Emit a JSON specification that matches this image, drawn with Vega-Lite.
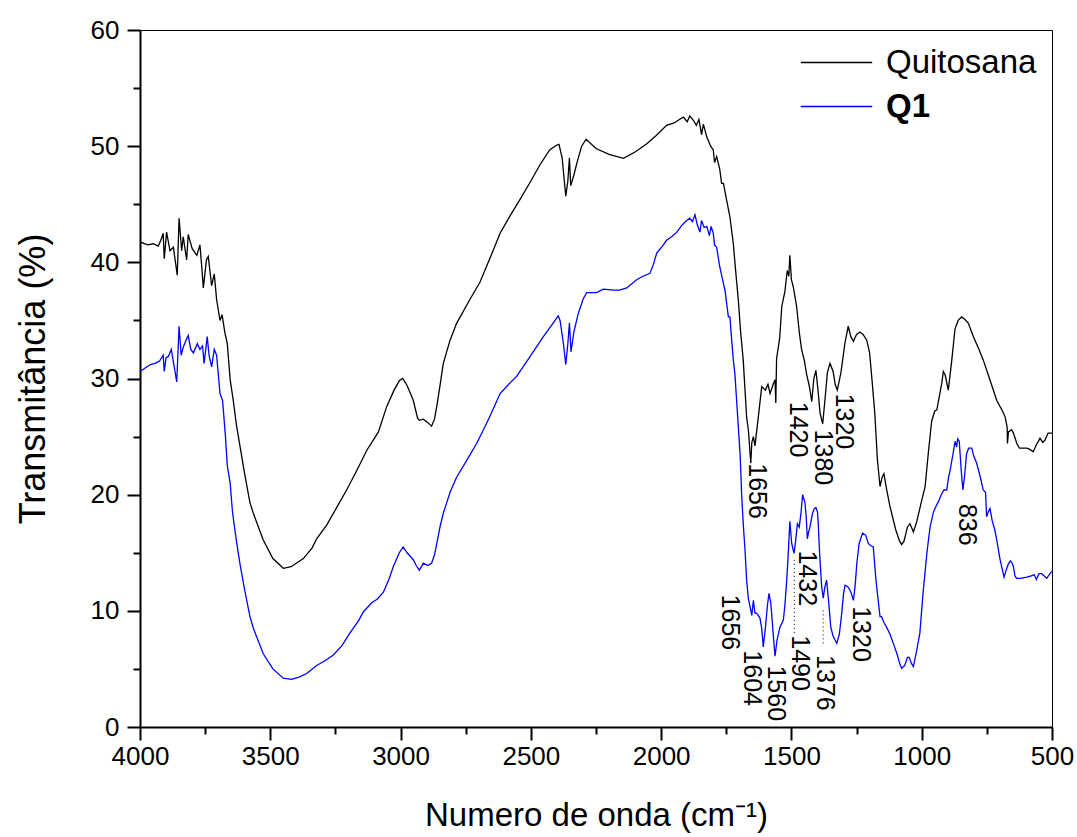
{
  "$schema": "https://vega.github.io/schema/vega-lite/v6.json",
  "autosize": {"type": "none"},
  "padding": {"left": 140, "top": 30, "right": 25, "bottom": 110},
  "width": 912,
  "height": 697,
  "background": "white",
  "config": {
    "font": "Liberation Sans",
    "view": {"stroke": "black", "strokeWidth": 1}
  },
  "datasets": {
    "quit": [
      {"x":4000,"y":41.6},{"x":3994,"y":41.7},{"x":3970,"y":41.5},{"x":3949,"y":41.6},{"x":3930,"y":41.4},{"x":3920,"y":41.9},{"x":3911,"y":42.5},{"x":3907,"y":40.3},{"x":3898,"y":42.6},{"x":3885,"y":41.0},{"x":3872,"y":41.3},{"x":3857,"y":38.9},{"x":3850,"y":43.8},{"x":3840,"y":41.0},{"x":3834,"y":42.2},{"x":3821,"y":40.2},{"x":3815,"y":42.4},{"x":3800,"y":41.2},{"x":3782,"y":40.6},{"x":3770,"y":41.5},{"x":3763,"y":39.6},{"x":3757,"y":37.8},{"x":3745,"y":40.2},{"x":3738,"y":40.5},{"x":3725,"y":38.0},{"x":3715,"y":39.0},{"x":3706,"y":36.8},{"x":3693,"y":35.0},{"x":3685,"y":35.5},{"x":3674,"y":33.9},{"x":3665,"y":33.0},{"x":3654,"y":29.9},{"x":3642,"y":28.1},{"x":3630,"y":26},{"x":3615,"y":24},{"x":3600,"y":22},{"x":3578,"y":19.3},{"x":3565,"y":18.4},{"x":3527,"y":16.1},{"x":3490,"y":14.5},{"x":3450,"y":13.66},{"x":3420,"y":13.8},{"x":3373,"y":14.5},{"x":3340,"y":15.4},{"x":3322,"y":16.2},{"x":3283,"y":17.4},{"x":3245,"y":18.9},{"x":3207,"y":20.4},{"x":3170,"y":22.0},{"x":3130,"y":23.8},{"x":3085,"y":25.4},{"x":3053,"y":27.6},{"x":3025,"y":29.0},{"x":3005,"y":29.8},{"x":2992,"y":30.0},{"x":2975,"y":29.4},{"x":2951,"y":28.1},{"x":2935,"y":26.6},{"x":2928,"y":26.4},{"x":2913,"y":26.5},{"x":2895,"y":26.2},{"x":2881,"y":25.9},{"x":2870,"y":26.5},{"x":2861,"y":27.6},{"x":2848,"y":29.5},{"x":2836,"y":31.3},{"x":2810,"y":33.3},{"x":2785,"y":34.75},{"x":2734,"y":36.8},{"x":2695,"y":38.3},{"x":2644,"y":41.06},{"x":2618,"y":42.5},{"x":2580,"y":44.0},{"x":2542,"y":45.4},{"x":2500,"y":47.0},{"x":2465,"y":48.4},{"x":2427,"y":49.7},{"x":2400,"y":50.1},{"x":2392,"y":50.16},{"x":2380,"y":49.0},{"x":2366,"y":45.7},{"x":2358,"y":47.0},{"x":2352,"y":49.0},{"x":2347,"y":46.6},{"x":2335,"y":47.5},{"x":2324,"y":48.5},{"x":2305,"y":50.0},{"x":2288,"y":50.6},{"x":2250,"y":49.8},{"x":2200,"y":49.3},{"x":2145,"y":48.95},{"x":2100,"y":49.5},{"x":2055,"y":50.2},{"x":2020,"y":50.9},{"x":1979,"y":51.8},{"x":1950,"y":52.0},{"x":1930,"y":52.3},{"x":1915,"y":52.5},{"x":1900,"y":52.1},{"x":1890,"y":52.6},{"x":1877,"y":52.25},{"x":1865,"y":51.8},{"x":1855,"y":52.3},{"x":1845,"y":51.0},{"x":1838,"y":51.9},{"x":1825,"y":50.8},{"x":1810,"y":50.0},{"x":1800,"y":49.7},{"x":1795,"y":48.6},{"x":1787,"y":49.1},{"x":1775,"y":48.0},{"x":1768,"y":46.8},{"x":1761,"y":46.8},{"x":1750,"y":45.5},{"x":1736,"y":43.9},{"x":1723,"y":41.6},{"x":1715,"y":39.5},{"x":1704,"y":36.8},{"x":1695,"y":34.0},{"x":1685,"y":31.6},{"x":1672,"y":26.7},{"x":1665,"y":25.5},{"x":1656,"y":22.7},{"x":1652,"y":24.5},{"x":1646,"y":25.0},{"x":1640,"y":24.2},{"x":1627,"y":26.7},{"x":1614,"y":29.3},{"x":1600,"y":29.0},{"x":1590,"y":29.5},{"x":1582,"y":28.7},{"x":1570,"y":29.5},{"x":1563,"y":29.9},{"x":1560,"y":27.9},{"x":1557,"y":31.7},{"x":1545,"y":33.5},{"x":1537,"y":36.2},{"x":1525,"y":37.5},{"x":1516,"y":39.3},{"x":1510,"y":38.8},{"x":1506,"y":40.6},{"x":1500,"y":38.5},{"x":1493,"y":37.9},{"x":1480,"y":36.2},{"x":1470,"y":34.0},{"x":1461,"y":32.5},{"x":1450,"y":31.5},{"x":1442,"y":30.4},{"x":1430,"y":29.2},{"x":1422,"y":28.0},{"x":1414,"y":30.0},{"x":1406,"y":30.7},{"x":1398,"y":29.0},{"x":1390,"y":27.0},{"x":1380,"y":26.1},{"x":1372,"y":28.0},{"x":1362,"y":30.5},{"x":1352,"y":31.3},{"x":1340,"y":30.6},{"x":1332,"y":29.5},{"x":1324,"y":29.0},{"x":1310,"y":30.5},{"x":1295,"y":33.0},{"x":1282,"y":34.5},{"x":1272,"y":33.6},{"x":1262,"y":33.2},{"x":1250,"y":33.8},{"x":1237,"y":34.0},{"x":1225,"y":33.8},{"x":1211,"y":33.3},{"x":1200,"y":32.2},{"x":1192,"y":30.2},{"x":1180,"y":27.0},{"x":1170,"y":23.0},{"x":1160,"y":20.7},{"x":1152,"y":21.5},{"x":1145,"y":21.8},{"x":1135,"y":20.5},{"x":1122,"y":19.0},{"x":1100,"y":17.0},{"x":1085,"y":16.0},{"x":1077,"y":15.7},{"x":1068,"y":16.0},{"x":1055,"y":17.2},{"x":1045,"y":17.5},{"x":1032,"y":16.8},{"x":1020,"y":17.6},{"x":1000,"y":19.5},{"x":987,"y":20.7},{"x":975,"y":23.5},{"x":962,"y":26.3},{"x":950,"y":27.2},{"x":942,"y":27.3},{"x":932,"y":28.5},{"x":923,"y":29.6},{"x":917,"y":30.6},{"x":910,"y":30.3},{"x":898,"y":29.0},{"x":885,"y":31.5},{"x":872,"y":34.3},{"x":860,"y":35.0},{"x":847,"y":35.3},{"x":835,"y":35.1},{"x":821,"y":34.75},{"x":800,"y":33.5},{"x":780,"y":32.5},{"x":764,"y":31.6},{"x":740,"y":30.0},{"x":712,"y":28.1},{"x":690,"y":27.2},{"x":680,"y":26.7},{"x":672,"y":25.8},{"x":671,"y":24.4},{"x":667,"y":25.4},{"x":655,"y":25.6},{"x":648,"y":25.3},{"x":635,"y":24.4},{"x":625,"y":24.0},{"x":616,"y":24.0},{"x":597,"y":24.0},{"x":585,"y":23.9},{"x":572,"y":23.7},{"x":560,"y":24.3},{"x":546,"y":24.85},{"x":535,"y":24.5},{"x":527,"y":24.7},{"x":515,"y":25.3},{"x":500,"y":25.3}
    ],
    "q1": [
      {"x":4000,"y":30.6},{"x":3980,"y":30.9},{"x":3960,"y":31.2},{"x":3942,"y":31.3},{"x":3925,"y":31.5},{"x":3911,"y":32.0},{"x":3907,"y":30.6},{"x":3900,"y":31.8},{"x":3891,"y":31.9},{"x":3880,"y":32.5},{"x":3870,"y":31.2},{"x":3859,"y":29.7},{"x":3850,"y":34.5},{"x":3842,"y":32.0},{"x":3834,"y":32.7},{"x":3825,"y":33.2},{"x":3815,"y":33.7},{"x":3805,"y":32.5},{"x":3795,"y":32.2},{"x":3780,"y":33.0},{"x":3770,"y":32.5},{"x":3760,"y":32.8},{"x":3754,"y":31.3},{"x":3742,"y":33.6},{"x":3735,"y":32.0},{"x":3725,"y":31.0},{"x":3715,"y":32.5},{"x":3706,"y":32.0},{"x":3700,"y":30.5},{"x":3693,"y":28.7},{"x":3683,"y":28.1},{"x":3672,"y":25.0},{"x":3665,"y":22.5},{"x":3654,"y":21.0},{"x":3645,"y":18.5},{"x":3630,"y":16.0},{"x":3616,"y":14.0},{"x":3600,"y":12.0},{"x":3578,"y":9.5},{"x":3565,"y":8.5},{"x":3527,"y":6.3},{"x":3490,"y":5.0},{"x":3450,"y":4.2},{"x":3418,"y":4.1},{"x":3390,"y":4.3},{"x":3360,"y":4.6},{"x":3322,"y":5.3},{"x":3290,"y":5.7},{"x":3258,"y":6.2},{"x":3225,"y":7.0},{"x":3194,"y":8.1},{"x":3160,"y":9.2},{"x":3143,"y":9.9},{"x":3111,"y":10.7},{"x":3090,"y":11.0},{"x":3066,"y":11.6},{"x":3045,"y":12.7},{"x":3028,"y":13.8},{"x":3005,"y":15.0},{"x":2990,"y":15.5},{"x":2975,"y":15.0},{"x":2951,"y":14.4},{"x":2940,"y":13.9},{"x":2928,"y":13.5},{"x":2920,"y":13.8},{"x":2913,"y":14.1},{"x":2895,"y":13.9},{"x":2881,"y":14.1},{"x":2870,"y":14.8},{"x":2861,"y":15.8},{"x":2848,"y":17.3},{"x":2836,"y":18.4},{"x":2810,"y":20.2},{"x":2785,"y":21.5},{"x":2745,"y":23.0},{"x":2708,"y":24.4},{"x":2660,"y":26.6},{"x":2618,"y":28.7},{"x":2585,"y":29.5},{"x":2554,"y":30.2},{"x":2500,"y":32.0},{"x":2452,"y":33.6},{"x":2420,"y":34.6},{"x":2395,"y":35.4},{"x":2388,"y":35.0},{"x":2375,"y":33.0},{"x":2366,"y":31.2},{"x":2358,"y":33.0},{"x":2352,"y":34.8},{"x":2346,"y":32.3},{"x":2335,"y":34.0},{"x":2318,"y":35.6},{"x":2300,"y":36.8},{"x":2286,"y":37.4},{"x":2248,"y":37.4},{"x":2222,"y":37.7},{"x":2184,"y":37.6},{"x":2160,"y":37.6},{"x":2132,"y":37.8},{"x":2110,"y":38.2},{"x":2094,"y":38.5},{"x":2070,"y":38.8},{"x":2043,"y":39.05},{"x":2030,"y":39.8},{"x":2017,"y":40.8},{"x":1995,"y":41.4},{"x":1979,"y":41.9},{"x":1960,"y":42.2},{"x":1940,"y":42.6},{"x":1920,"y":43.2},{"x":1902,"y":43.6},{"x":1890,"y":43.8},{"x":1880,"y":43.5},{"x":1870,"y":44.1},{"x":1862,"y":43.3},{"x":1851,"y":42.6},{"x":1845,"y":43.6},{"x":1835,"y":43.0},{"x":1825,"y":43.1},{"x":1815,"y":42.3},{"x":1808,"y":43.1},{"x":1800,"y":42.5},{"x":1795,"y":41.5},{"x":1787,"y":41.3},{"x":1775,"y":39.6},{"x":1765,"y":38.6},{"x":1755,"y":37.6},{"x":1742,"y":35.3},{"x":1736,"y":35.3},{"x":1730,"y":33.5},{"x":1723,"y":31.6},{"x":1717,"y":30.4},{"x":1710,"y":28.0},{"x":1704,"y":25.9},{"x":1697,"y":23.5},{"x":1691,"y":20.0},{"x":1685,"y":17.5},{"x":1678,"y":15.2},{"x":1672,"y":12.65},{"x":1665,"y":11.0},{"x":1659,"y":10.4},{"x":1652,"y":9.6},{"x":1646,"y":10.9},{"x":1640,"y":9.8},{"x":1634,"y":9.8},{"x":1621,"y":9.4},{"x":1614,"y":8.5},{"x":1608,"y":6.9},{"x":1600,"y":8.5},{"x":1592,"y":10.5},{"x":1586,"y":11.5},{"x":1580,"y":10.8},{"x":1576,"y":9.8},{"x":1570,"y":8.0},{"x":1563,"y":6.1},{"x":1555,"y":7.5},{"x":1544,"y":8.6},{"x":1531,"y":9.2},{"x":1525,"y":10.5},{"x":1518,"y":12.65},{"x":1512,"y":15.0},{"x":1506,"y":17.7},{"x":1499,"y":15.8},{"x":1490,"y":14.95},{"x":1484,"y":16.0},{"x":1477,"y":17.5},{"x":1470,"y":17.2},{"x":1463,"y":18.5},{"x":1457,"y":20.0},{"x":1448,"y":19.3},{"x":1443,"y":18.0},{"x":1439,"y":16.2},{"x":1434,"y":16.8},{"x":1429,"y":17.2},{"x":1419,"y":18.4},{"x":1412,"y":18.8},{"x":1406,"y":18.9},{"x":1400,"y":18.5},{"x":1397,"y":17.5},{"x":1392,"y":15.0},{"x":1384,"y":12.1},{"x":1378,"y":11.1},{"x":1372,"y":12.0},{"x":1365,"y":12.65},{"x":1358,"y":11.0},{"x":1349,"y":8.6},{"x":1340,"y":7.8},{"x":1326,"y":7.2},{"x":1316,"y":8.0},{"x":1307,"y":9.8},{"x":1300,"y":11.5},{"x":1294,"y":12.2},{"x":1285,"y":12.1},{"x":1278,"y":11.9},{"x":1270,"y":11.5},{"x":1262,"y":10.9},{"x":1255,"y":12.3},{"x":1249,"y":14.1},{"x":1240,"y":15.8},{"x":1227,"y":16.7},{"x":1215,"y":16.5},{"x":1205,"y":15.8},{"x":1195,"y":15.6},{"x":1186,"y":15.5},{"x":1175,"y":12.5},{"x":1160,"y":9.5},{"x":1154,"y":9.5},{"x":1145,"y":9.0},{"x":1135,"y":8.6},{"x":1122,"y":8.0},{"x":1109,"y":7.2},{"x":1095,"y":6.3},{"x":1085,"y":5.5},{"x":1077,"y":5.05},{"x":1065,"y":5.3},{"x":1055,"y":6.0},{"x":1048,"y":6.0},{"x":1040,"y":5.5},{"x":1032,"y":5.2},{"x":1020,"y":6.5},{"x":1007,"y":8.1},{"x":995,"y":11.5},{"x":980,"y":15.0},{"x":968,"y":17.2},{"x":955,"y":18.5},{"x":945,"y":19.0},{"x":936,"y":19.4},{"x":925,"y":20.0},{"x":915,"y":20.4},{"x":904,"y":20.4},{"x":897,"y":21.5},{"x":891,"y":22.1},{"x":880,"y":23.5},{"x":872,"y":24.6},{"x":866,"y":24.1},{"x":862,"y":24.8},{"x":856,"y":24.6},{"x":848,"y":22.0},{"x":842,"y":20.4},{"x":836,"y":21.5},{"x":828,"y":23.5},{"x":820,"y":24.0},{"x":813,"y":24.0},{"x":808,"y":24.0},{"x":800,"y":23.3},{"x":789,"y":22.7},{"x":775,"y":21.5},{"x":764,"y":20.4},{"x":755,"y":20.2},{"x":751,"y":18.1},{"x":745,"y":18.5},{"x":738,"y":18.8},{"x":730,"y":17.8},{"x":720,"y":17.0},{"x":712,"y":16.1},{"x":700,"y":14.5},{"x":692,"y":13.7},{"x":684,"y":12.9},{"x":676,"y":13.5},{"x":668,"y":14.0},{"x":660,"y":14.3},{"x":655,"y":14.2},{"x":648,"y":13.8},{"x":642,"y":13.0},{"x":636,"y":12.8},{"x":620,"y":12.8},{"x":597,"y":12.9},{"x":580,"y":13.0},{"x":568,"y":13.1},{"x":560,"y":12.7},{"x":550,"y":13.2},{"x":540,"y":13.2},{"x":530,"y":13.0},{"x":520,"y":12.8},{"x":508,"y":13.2},{"x":500,"y":13.4}
    ],
    "labels": [
      {"x":1631,"y":22.7,"t":"1656"},{"x":1473,"y":28.0,"t":"1420"},{"x":1379,"y":25.6,"t":"1380"},{"x":1298,"y":28.7,"t":"1320"},{"x":826,"y":19.2,"t":"836"},
      {"x":1736,"y":11.4,"t":"1656"},{"x":1653,"y":6.6,"t":"1604"},{"x":1558,"y":5.3,"t":"1560"},{"x":1466,"y":7.9,"t":"1490"},{"x":1439,"y":15.2,"t":"1432"},{"x":1370,"y":6.2,"t":"1376"},{"x":1234,"y":10.4,"t":"1320"}
    ],
    "guides": [
      {"x":1489,"y":8.1,"y2":14.5},{"x":1378,"y":7.2,"y2":10.1}
    ]
  },
  "encoding": {
    "x": {
      "field": "x", "type": "quantitative",
      "scale": {"domain": [500, 4000], "reverse": true, "nice": false, "zero": false},
      "axis": {
        "values": [4000,3750,3500,3250,3000,2750,2500,2250,2000,1750,1500,1250,1000,750,500],
        "format": "d",
        "labelExpr": "datum.value % 500 === 0 ? datum.label : ''",
        "tickSize": {"condition": {"test": "datum.value % 500 !== 0", "value": 7}, "value": 13},
        "tickWidth": 2, "tickColor": "black",
        "domainWidth": 2, "domainColor": "black",
        "grid": false, "labelFlush": false, "labelOverlap": false,
        "labelFontSize": 26, "labelColor": "black", "labelPadding": 3,
        "title": "Numero de onda (cm⁻¹)",
        "titleFontSize": 33, "titleFontWeight": "normal", "titleColor": "black", "titlePadding": 30
      }
    },
    "y": {
      "field": "y", "type": "quantitative",
      "scale": {"domain": [0, 60], "nice": false},
      "axis": {
        "values": [0,5,10,15,20,25,30,35,40,45,50,55,60],
        "labelExpr": "datum.value % 10 === 0 ? datum.label : ''",
        "tickSize": {"condition": {"test": "datum.value % 10 !== 0", "value": 7}, "value": 13},
        "tickWidth": 2, "tickColor": "black",
        "domainWidth": 2, "domainColor": "black",
        "grid": false, "labelFlush": false, "labelOverlap": false,
        "labelFontSize": 26, "labelColor": "black", "labelPadding": 8,
        "title": "Transmitância (%)",
        "titleFontSize": 36, "titleFontWeight": "normal", "titleColor": "black", "titlePadding": 38
      }
    }
  },
  "layer": [
    {
      "data": {"name": "quit"},
      "transform": [{"calculate": "'Quitosana'", "as": "s"}],
      "mark": {"type": "line", "strokeWidth": 1.3},
      "encoding": {
        "color": {
          "field": "s", "type": "nominal",
          "scale": {"domain": ["Quitosana", "Q1"], "range": ["#000000", "#0000ff"]},
          "legend": {
            "title": null, "orient": "none", "legendX": 670, "legendY": 6,
            "symbolType": "M-1.4,0H1.4", "symbolSize": 2601, "symbolStrokeWidth": 1.5,
            "symbolFillColor": "transparent",
            "labelFontSize": 33, "labelColor": "black", "labelOffset": 23, "rowPadding": 0,
            "labelFontWeight": {"expr": "datum.label === 'Q1' ? 'bold' : 'normal'"}
          }
        }
      }
    },
    {
      "data": {"name": "q1"},
      "transform": [{"calculate": "'Q1'", "as": "s"}],
      "mark": {"type": "line", "strokeWidth": 1.3},
      "encoding": {
        "color": {"field": "s", "type": "nominal"}
      }
    },
    {
      "data": {"name": "guides"},
      "mark": {"type": "rule", "strokeDash": [1, 3], "color": "black", "strokeWidth": 1},
      "encoding": {"y2": {"field": "y2"}}
    },
    {
      "data": {"name": "labels"},
      "mark": {"type": "text", "angle": 90, "align": "left", "baseline": "middle", "fontSize": 25, "color": "black"},
      "encoding": {"text": {"field": "t", "type": "nominal"}}
    }
  ]
}
